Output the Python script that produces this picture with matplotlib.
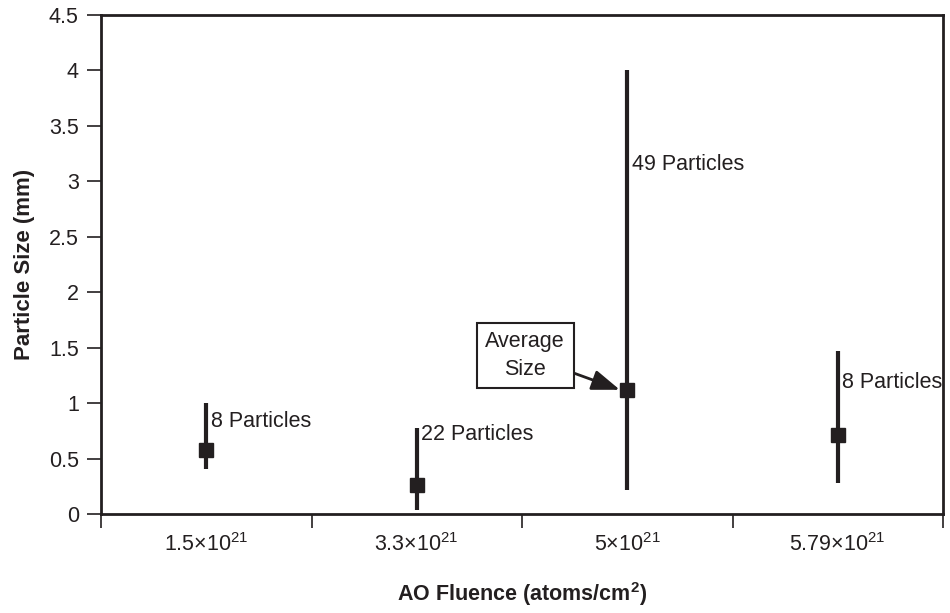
import matplotlib
matplotlib.use('Agg')
import matplotlib.pyplot as plt
import numpy as np

# dados
fluence = ['1.5×10$^{21}$', '3.3×10$^{21}$', '5×10$^{21}$', '5.79×10$^{21}$']
size_avg = [0.58, 0.26, 1.12, 0.71]
size_min = [0.41, 0.04, 0.22, 0.28]
size_max = [1.00, 0.78, 4.00, 1.47]
labels = ['8 Particles', '22 Particles', '49 Particles', '8 Particles']
label_y = [0.83, 0.72, 3.15, 1.19]

plt.rcParams['font.family'] = ['Liberation Sans', 'DejaVu Sans']
plt.rcParams['mathtext.fontset'] = 'custom'
plt.rcParams['mathtext.rm'] = 'Liberation Sans'
plt.rcParams['mathtext.bf'] = 'Liberation Sans:bold'

ink = '#231f20'
fig = plt.figure(figsize=(9.5, 6.13), dpi=100)
ax = fig.add_axes([101/950, 1-514/613, (943-101)/950, (514-15)/613])

x = np.arange(len(fluence))
ax.vlines(x, size_min, size_max, color=ink, lw=3)
ax.plot(x, size_avg, 's', color=ink, ms=10, ls='none')
for xi, lab, ly in zip(x, labels, label_y):
    ax.text(xi + 0.022, ly, lab, fontsize=15.5, color=ink, va='center', ha='left', clip_on=False)

ax.annotate('Average\nSize', xy=(x[2] - 0.035, size_avg[2]), xytext=(x[2] - 0.485, 1.43),
            fontsize=15.5, color=ink, ha='center', va='center', linespacing=1.4,
            bbox=dict(boxstyle='square,pad=0.4', fc='white', ec=ink, lw=1.5),
            arrowprops=dict(arrowstyle='-|>,head_length=1.1,head_width=0.4', color=ink, lw=2,
                            shrinkA=0, shrinkB=0))

ax.set_xlim(-0.5, len(fluence) - 0.5)
ax.set_ylim(0, 4.5)
ax.set_yticks(np.arange(0, 4.51, 0.5))
ax.set_yticklabels(['0', '0.5', '1', '1.5', '2', '2.5', '3', '3.5', '4', '4.5'])
ax.set_xticks(np.arange(-0.5, len(fluence), 1.0))
ax.set_xticklabels([])
ax.set_xticks(x, minor=True)
ax.set_xticklabels(fluence, minor=True)
ax.tick_params(axis='x', which='minor', length=0, pad=14, labelsize=15.5, colors=ink)
ax.tick_params(axis='x', which='major', length=10, width=1.2, direction='out', color=ink)
ax.tick_params(axis='y', length=10, width=1.2, direction='out', labelsize=15.5, colors=ink, pad=6)
for s in ax.spines.values():
    s.set_linewidth(2)
    s.set_color(ink)

ax.set_ylabel('Particle Size (mm)', fontsize=16, fontweight='bold', color=ink, labelpad=10)
ax.set_xlabel('AO Fluence (atoms/cm$^{\\mathbf{2}}$)', fontsize=15.5, fontweight='bold', color=ink, labelpad=17)

plt.savefig('out.png', dpi=100)
